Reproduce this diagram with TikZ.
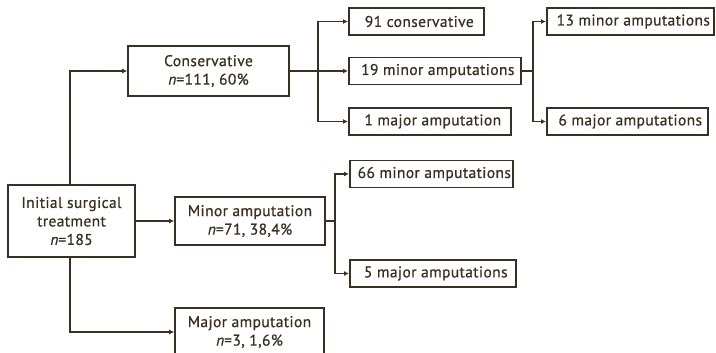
\documentclass[tikz,border=0pt]{standalone}
\usepackage{fontspec}
\setmainfont{PT Sans}
\newfontface\medfont{PT Sans}[FakeBold=0.7,LetterSpace=2.5]
\newfontface\meditfont{PT Sans Italic}[FakeBold=0.7]
\usetikzlibrary{arrows.meta}
\definecolor{ink}{HTML}{3A2F20}
\newcommand{\nn}{{\meditfont n}}
\begin{document}
\begin{tikzpicture}[x=1pt,y=-1pt,
    box/.style={draw=ink, line width=1.6pt, text=ink, inner sep=0pt, align=center, font=\fontsize{15.5}{18.5}\medfont},
    leaf/.style={draw=ink, line width=1.6pt, text=ink, inner sep=0pt, anchor=west, minimum height=27pt, font=\fontsize{15.5}{18}\medfont},
    link/.style={draw=ink, line width=1.6pt, -{Latex[length=5pt,width=5pt]}},
    bar/.style={draw=ink, line width=1.6pt}]
    \useasboundingbox (0,0) rectangle (716,353);
    \begin{scope}
    \clip (0,0) rectangle (716,353);
    \node[box, minimum width=127pt, minimum height=72pt] (init) at (71.5,221) {Initial surgical\\treatment\\\nn=185};
    \node[box, minimum width=161pt, minimum height=50pt] (cons) at (208.5,71) {Conservative\\\nn=111, 60\%};
    \node[box, minimum width=150pt, minimum height=48pt] (minor) at (250,221) {Minor amputation\\\nn=71, 38,4\%};
    \node[box, minimum width=149pt, minimum height=48pt] (major) at (249.5,332) {Major amputation\\\nn=3, 1,6\%};
    \node[leaf, minimum width=135pt] (c91) at (348,21.5) {\hspace{6pt}91 conservative};
    \node[leaf, minimum width=172pt] (c19) at (348,71) {\hspace{6pt}19 minor amputations};
    \node[leaf, minimum width=162pt] (c1) at (348,121.5) {\hspace{6pt}1 major amputation};
    \node[leaf, minimum width=167pt] (c13) at (546,21.5) {\hspace{6pt}13 minor amputations};
    \node[leaf, minimum width=161pt] (c6) at (546,121.5) {\hspace{6pt}6 major amputations};
    \node[leaf, minimum width=163pt] (m66) at (349,174) {\hspace{6pt}66 minor amputations};
    \node[leaf, minimum width=166pt] (m5) at (349,273.5) {\hspace{6pt}5 major amputations};
    \coordinate (j0) at (70,0);
    \coordinate (j1) at (318,0);
    \coordinate (j2) at (533,0);
    \coordinate (j3) at (335,0);
    \draw[link] (init.north -| j0) |- (cons.west);
    \draw[link] (init.east) -- (minor.west);
    \draw[link] (init.south -| j0) |- (major.west);
    \draw[bar] (cons.east) -- (cons.east -| j1);
    \draw[link] (cons.east -| j1) |- (c91.west);
    \draw[link] (cons.east -| j1) -- (c19.west);
    \draw[link] (cons.east -| j1) |- (c1.west);
    \draw[bar] (c19.east) -- (c19.east -| j2);
    \draw[link] (c19.east -| j2) |- (c13.west);
    \draw[link] (c19.east -| j2) |- (c6.west);
    \draw[bar] (minor.east) -- (minor.east -| j3);
    \draw[link] (minor.east -| j3) |- (m66.west);
    \draw[link] (minor.east -| j3) |- (m5.west);
    \end{scope}
\end{tikzpicture}
\end{document}
